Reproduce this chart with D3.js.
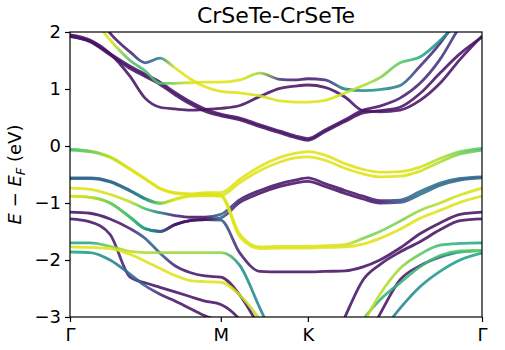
<!DOCTYPE html>
<html>
<head>
<meta charset="utf-8">
<script src="https://cdn.jsdelivr.net/npm/d3@7"></script>
<style>
  body { margin: 0; background: #fff; }
  svg { display: block; font-family: "DejaVu Sans", sans-serif; }
</style>
</head>
<body>
<div id="chart-area"></div>
<script>
// k path: Γ - M - K - Γ (hexagonal, in units of the Γ-K length)
var kPoints = [0, 0.115, 0.230, 0.345, 0.431, 0.517, 0.603, 0.689, 0.775, 0.866, 0.976, 1.091, 1.206, 1.292, 1.366, 1.464, 1.579, 1.683, 1.780, 1.895, 2.010, 2.125, 2.240, 2.366];
var kTicks = [0, 0.866, 1.366, 2.366];
var kLabels = ["Γ", "M", "K", "Γ"];
var eTicks = [-3, -2, -1, 0, 1, 2];

// conduction bands (eV) and projection weights (0 = purple, 1 = yellow)
var cbA  = [1.95, 1.86, 1.62, 1.22, 0.84, 0.68, 0.65, 0.63, 0.64, 0.66, 0.71, 0.87, 1.01, 1.05, 1.07, 1.03, 0.86, 0.62, 0.60, 0.63, 0.80, 1.10, 1.52, 1.93];
var cbAw = [0.05, 0.05, 0.05, 0.05, 0.05, 0.05, 0.05, 0.05, 0.05, 0.05, 0.05, 0.05, 0.05, 0.05, 0.05, 0.05, 0.05, 0.08, 0.08, 0.05, 0.05, 0.05, 0.05, 0.05];
var cbB  = [1.93, 1.83, 1.60, 1.36, 1.22, 1.08, 0.90, 0.74, 0.61, 0.53, 0.46, 0.34, 0.23, 0.15, 0.10, 0.25, 0.43, 0.58, 0.62, 0.68, 0.92, 1.28, 1.62, 1.91];
var cbBw = [0.05, 0.05, 0.05, 0.05, 0.05, 0.05, 0.05, 0.05, 0.05, 0.05, 0.05, 0.05, 0.05, 0.05, 0.05, 0.05, 0.05, 0.05, 0.05, 0.05, 0.05, 0.05, 0.05, 0.05];
var cbC  = [1.92, 1.84, 1.62, 1.40, 1.26, 1.12, 0.94, 0.78, 0.65, 0.56, 0.49, 0.37, 0.26, 0.18, 0.13, 0.28, 0.46, 0.63, 0.70, 0.84, 1.10, 1.52, 2.10, 2.60];
var cbCw = [0.05, 0.05, 0.05, 0.05, 0.05, 0.05, 0.05, 0.05, 0.05, 0.05, 0.05, 0.05, 0.05, 0.05, 0.05, 0.05, 0.05, 0.05, 0.05, 0.08, 0.12, 0.15, 0.15, 0.15];
var cbY1  = [2.60, 2.30, 1.86, 1.50, 1.32, 1.10, 1.10, 1.11, 1.12, 1.12, 1.16, 1.28, 1.17, 1.16, 1.18, 1.16, 1.00, 0.97, 0.99, 1.06, 1.40, 1.80, 2.30, 2.80];
var cbY1w = [0.95, 0.95, 0.95, 0.72, 0.70, 0.72, 0.82, 0.93, 0.95, 0.95, 0.95, 0.85, 0.15, 0.08, 0.08, 0.12, 0.45, 0.50, 0.50, 0.40, 0.15, 0.12, 0.12, 0.12];
var cbY2  = [2.80, 2.50, 1.98, 1.65, 1.46, 1.54, 1.37, 1.18, 1.04, 0.96, 0.93, 0.88, 0.79, 0.77, 0.77, 0.80, 0.93, 1.06, 1.20, 1.46, 1.56, 1.85, 2.20, 2.60];
var cbY2w = [0.05, 0.05, 0.05, 0.10, 0.25, 0.45, 0.95, 0.95, 0.95, 0.95, 0.95, 0.92, 0.95, 0.95, 0.95, 0.95, 0.92, 0.88, 0.82, 0.75, 0.62, 0.50, 0.45, 0.45];

// valence bands (eV) and weights
var vb1  = [-0.06, -0.09, -0.19, -0.40, -0.57, -0.74, -0.82, -0.84, -0.82, -0.82, -0.58, -0.36, -0.20, -0.13, -0.10, -0.16, -0.31, -0.41, -0.46, -0.45, -0.37, -0.22, -0.10, -0.04];
var vb1w = [0.72, 0.78, 0.90, 0.95, 0.95, 0.95, 0.95, 0.95, 0.95, 0.95, 0.95, 0.95, 0.95, 0.95, 0.95, 0.95, 0.95, 0.95, 0.95, 0.95, 0.93, 0.88, 0.80, 0.72];
var vb2  = [-0.56, -0.56, -0.62, -0.78, -0.92, -1.00, -0.93, -0.87, -0.86, -0.87, -0.64, -0.43, -0.28, -0.21, -0.19, -0.25, -0.39, -0.49, -0.54, -0.53, -0.44, -0.28, -0.14, -0.07];
var vb2w = [0.33, 0.33, 0.33, 0.38, 0.50, 0.80, 0.95, 0.95, 0.95, 0.95, 0.95, 0.95, 0.95, 0.95, 0.95, 0.95, 0.95, 0.95, 0.95, 0.95, 0.93, 0.88, 0.80, 0.72];
var vb3  = [-0.74, -0.76, -0.85, -0.98, -1.10, -1.17, -1.22, -1.25, -1.25, -1.20, -0.94, -0.78, -0.66, -0.60, -0.56, -0.66, -0.78, -0.88, -0.96, -0.95, -0.80, -0.65, -0.57, -0.54];
var vb3w = [0.95, 0.95, 0.93, 0.90, 0.70, 0.40, 0.10, 0.05, 0.05, 0.35, 0.08, 0.05, 0.05, 0.05, 0.05, 0.05, 0.05, 0.05, 0.08, 0.25, 0.38, 0.35, 0.33, 0.33];
var vb4  = [-0.88, -0.90, -1.00, -1.25, -1.45, -1.50, -1.38, -1.31, -1.29, -1.26, -0.99, -0.83, -0.71, -0.65, -0.62, -0.71, -0.83, -0.93, -1.00, -0.99, -0.85, -0.69, -0.60, -0.56];
var vb4w = [0.95, 0.90, 0.78, 0.70, 0.55, 0.30, 0.05, 0.05, 0.05, 0.30, 0.08, 0.05, 0.05, 0.05, 0.05, 0.05, 0.05, 0.05, 0.08, 0.25, 0.38, 0.35, 0.33, 0.33];
var vb5  = [-1.16, -1.18, -1.28, -1.45, -1.62, -1.88, -2.10, -2.22, -2.28, -2.30, -2.62, -3.20, -3.90, -4.20, -4.30, -3.80, -3.00, -2.35, -2.08, -1.86, -1.68, -1.47, -1.31, -1.28];
var vb5w = [0.05, 0.05, 0.05, 0.08, 0.30, 0.30, 0.10, 0.05, 0.05, 0.05, 0.05, 0.05, 0.05, 0.05, 0.05, 0.05, 0.05, 0.05, 0.05, 0.05, 0.05, 0.05, 0.05, 0.05];
var vb6  = [-1.28, -1.33, -1.55, -2.30, -2.40, -2.48, -2.56, -2.64, -2.72, -2.78, -3.05, -3.60, -4.20, -4.30, -4.30, -4.30, -4.10, -3.50, -2.95, -2.35, -2.10, -1.95, -1.86, -1.84];
var vb6w = [0.05, 0.05, 0.08, 0.10, 0.05, 0.05, 0.05, 0.05, 0.05, 0.05, 0.05, 0.05, 0.05, 0.05, 0.05, 0.05, 0.05, 0.05, 0.05, 0.05, 0.08, 0.30, 0.60, 0.75];
var vb7  = [-1.70, -1.70, -1.76, -1.85, -1.87, -1.87, -1.87, -1.87, -1.87, -1.87, -2.10, -2.85, -3.60, -4.20, -4.30, -4.30, -4.20, -3.70, -3.30, -2.85, -2.47, -2.20, -2.00, -1.88];
var vb7w = [0.60, 0.60, 0.80, 0.90, 0.88, 0.85, 0.85, 0.85, 0.85, 0.82, 0.50, 0.45, 0.45, 0.45, 0.45, 0.45, 0.45, 0.45, 0.45, 0.45, 0.50, 0.55, 0.55, 0.60];
var vb8  = [-1.77, -1.78, -1.80, -1.90, -2.02, -2.15, -2.27, -2.36, -2.38, -2.39, -2.62, -3.05, -3.60, -4.20, -4.30, -4.20, -3.50, -3.10, -2.60, -2.15, -1.90, -1.74, -1.71, -1.70];
var vb8w = [0.95, 0.95, 0.95, 0.95, 0.95, 0.95, 0.95, 0.95, 0.95, 0.95, 0.92, 0.90, 0.90, 0.90, 0.90, 0.90, 0.90, 0.90, 0.90, 0.85, 0.75, 0.68, 0.62, 0.60];
var vb9  = [-1.86, -1.87, -2.00, -2.25, -2.45, -2.60, -2.72, -2.85, -2.98, -3.10, -3.50, -4.00, -4.30, -4.30, -4.30, -4.20, -3.60, -3.05, -2.70, -2.40, -2.12, -1.92, -1.84, -1.83];
var vb9w = [0.60, 0.55, 0.45, 0.35, 0.30, 0.10, 0.05, 0.05, 0.05, 0.05, 0.05, 0.05, 0.05, 0.05, 0.05, 0.60, 0.62, 0.65, 0.65, 0.65, 0.68, 0.70, 0.72, 0.75];
var vb10  = [-0.07, -0.10, -0.20, -0.41, -0.58, -0.75, -0.83, -0.85, -0.84, -0.86, -1.55, -1.77, -1.76, -1.76, -1.76, -1.75, -1.73, -1.62, -1.50, -1.32, -1.13, -1.00, -0.86, -0.74];
var vb10w = [0.72, 0.78, 0.90, 0.95, 0.95, 0.95, 0.95, 0.95, 0.95, 0.95, 0.95, 0.95, 0.95, 0.95, 0.95, 0.95, 0.93, 0.82, 0.80, 0.80, 0.85, 0.90, 0.93, 0.95];
var vb11  = [-0.57, -0.57, -0.63, -0.79, -0.93, -1.01, -0.94, -0.88, -0.87, -0.88, -1.60, -1.80, -1.79, -1.79, -1.79, -1.78, -1.77, -1.72, -1.62, -1.46, -1.27, -1.13, -0.99, -0.88];
var vb11w = [0.33, 0.33, 0.33, 0.38, 0.50, 0.80, 0.95, 0.95, 0.95, 0.95, 0.95, 0.95, 0.95, 0.95, 0.95, 0.95, 0.95, 0.95, 0.95, 0.95, 0.95, 0.95, 0.95, 0.95];
var vb12  = [-0.88, -0.90, -1.00, -1.25, -1.45, -1.50, -1.38, -1.31, -1.29, -1.30, -1.88, -2.20, -2.21, -2.21, -2.21, -2.20, -2.19, -2.12, -2.00, -1.79, -1.54, -1.35, -1.20, -1.16];
var vb12w = [0.95, 0.90, 0.78, 0.70, 0.55, 0.30, 0.05, 0.05, 0.05, 0.30, 0.10, 0.05, 0.05, 0.05, 0.05, 0.05, 0.05, 0.05, 0.05, 0.05, 0.05, 0.05, 0.05, 0.05];

var bands = [
  {e: cbA, w: cbAw}, {e: cbB, w: cbBw}, {e: cbC, w: cbCw},
  {e: cbY1, w: cbY1w}, {e: cbY2, w: cbY2w},
  {e: vb5, w: vb5w}, {e: vb6, w: vb6w}, {e: vb12, w: vb12w},
  {e: vb9, w: vb9w}, {e: vb7, w: vb7w}, {e: vb8, w: vb8w},
  {e: vb3, w: vb3w}, {e: vb4, w: vb4w},
  {e: vb11, w: vb11w}, {e: vb10, w: vb10w},
  {e: vb2, w: vb2w}, {e: vb1, w: vb1w}
];

var margin = {left: 70, right: 23, top: 32, bottom: 33};
var width = 505 - margin.left - margin.right,
    height = 350 - margin.top - margin.bottom;
var kMax = kTicks[kTicks.length - 1];

var svg = d3.select("#chart-area").append("svg").attr("width", 505).attr("height", 350);
var defs = svg.append("defs");
defs.append("clipPath").attr("id", "plot-clip").append("rect")
  .attr("width", width).attr("height", height);

var g = svg.append("g").attr("transform", "translate(" + margin.left + "," + margin.top + ")");

var x = d3.scaleLinear().domain([0, kMax]).range([0, width]);
var y = d3.scaleLinear().domain([-3, 2]).range([height, 0]);

var line = d3.line()
  .x(function (d) { return x(d[0]); })
  .y(function (d) { return y(d[1]); })
  .curve(d3.curveMonotoneX);

var plot = g.append("g").attr("clip-path", "url(#plot-clip)");

bands.forEach(function (b, i) {
  // colour runs along k, so a horizontal gradient per band does the job
  var grad = defs.append("linearGradient").attr("id", "band" + i)
    .attr("gradientUnits", "userSpaceOnUse")
    .attr("x1", x(0)).attr("x2", x(kMax)).attr("y1", 0).attr("y2", 0);
  kPoints.forEach(function (k, j) {
    grad.append("stop").attr("offset", k / kMax).attr("stop-color", d3.interpolateViridis(b.w[j]));
  });
  plot.append("path")
    .datum(kPoints.map(function (k, j) { return [k, b.e[j]]; }))
    .attr("d", line)
    .attr("fill", "none")
    .attr("stroke", "url(#band" + i + ")")
    .attr("stroke-width", 2.8)
    .attr("stroke-opacity", 0.88)
    .attr("stroke-linejoin", "round");
});

var xAxis = d3.axisBottom(x).tickValues(kTicks)
  .tickFormat(function (d, i) { return kLabels[i]; })
  .tickSize(5).tickPadding(6);
var yAxis = d3.axisLeft(y).tickValues(eTicks).tickFormat(d3.format("d"))
  .tickSize(5).tickPadding(4);

var gx = g.append("g").attr("transform", "translate(0," + height + ")").call(xAxis);
var gy = g.append("g").call(yAxis);
[gx, gy].forEach(function (ax) {
  ax.select(".domain").remove();
  ax.selectAll("line").attr("stroke", "#000").attr("stroke-width", 1.2);
  ax.selectAll("text").attr("fill", "#000").attr("font-size", "18px")
    .attr("font-family", "DejaVu Sans, sans-serif");
});

g.append("rect").attr("width", width).attr("height", height)
  .attr("fill", "none").attr("stroke", "#000").attr("stroke-width", 1.2);

g.append("text").attr("x", width / 2).attr("y", -9)
  .attr("text-anchor", "middle").attr("font-size", "22px")
  .text("CrSeTe-CrSeTe");

var yLabel = svg.append("text")
  .attr("transform", "translate(21," + (margin.top + height / 2) + ") rotate(-90)")
  .attr("text-anchor", "middle").attr("font-size", "18px");
yLabel.append("tspan").attr("font-style", "italic").text("E");
yLabel.append("tspan").text(" − ");
yLabel.append("tspan").attr("font-style", "italic").text("E");
yLabel.append("tspan").attr("font-style", "italic").attr("font-size", "13px").attr("dy", 4).text("F");
yLabel.append("tspan").attr("dy", -4).text(" (eV)");
</script>
</body>
</html>
